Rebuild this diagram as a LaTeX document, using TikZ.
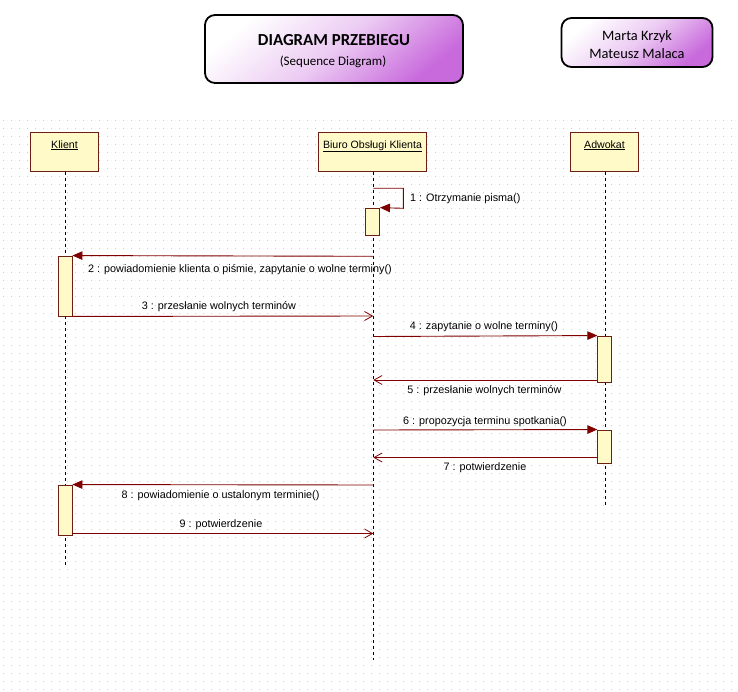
\documentclass[tikz,border=0pt]{standalone}
\usepackage{fontspec}
\setmainfont{Liberation Sans}
\newfontfamily\calib{Carlito}
\usetikzlibrary{arrows.meta}
\definecolor{msgc}{RGB}{128,0,0}
\definecolor{boxbd}{RGB}{110,30,20}
\definecolor{boxfill}{RGB}{255,250,200}
\definecolor{purp}{RGB}{200,105,220}
\definecolor{griddot}{RGB}{205,205,205}
\tikzset{
  titlebox/.style={draw=black, line width=1.8pt, rounded corners=10pt, top color=white, bottom color=purp, middle color=purp!35, shading angle=40, inner sep=0},
  objbox/.style={draw=boxbd, fill=boxfill, line width=0.9pt, minimum width=68, minimum height=39, inner sep=0},
  actbox/.style={draw=boxbd, fill=boxfill, line width=0.9pt, minimum width=14, inner sep=0},
  objlabel/.style={anchor=north, yshift=-5, font=\fontsize{10.6}{12}\selectfont},
  lifeline/.style={draw=black, line width=0.9pt, dash pattern=on 3pt off 3pt},
  callmsg/.style={draw=msgc, line width=0.9pt, -{Triangle[length=10pt,width=8.5pt]}},
  retmsg/.style={draw=msgc, line width=0.9pt, -{Straight Barb[length=8pt,width=9pt,line width=0.8pt]}},
  msglabel/.style={font=\fontsize{10.8}{12}\selectfont, inner sep=0}
}
\begin{document}
\begin{tikzpicture}[x=1pt, y=-1pt]
\useasboundingbox (0,0) rectangle (738,692);
\fill[white] (0,0) rectangle (738,692);
% dotted grid
\foreach \gy in {121,129,...,689}
  \draw[griddot, line width=1pt, dash pattern=on 1pt off 7pt] (3,\gy) -- (738,\gy);

% title boxes
\node[titlebox, minimum width=258, minimum height=68] (title) at (334,49) {};
\node[font=\calib\bfseries\fontsize{16.8}{20}\selectfont] (t1) at (334,40) {DIAGRAM PRZEBIEGU};
\node[font=\calib\fontsize{13}{15}\selectfont] (t2) at (333,61.5) {(Sequence Diagram)};
\node[titlebox, minimum width=151, minimum height=49] (authors) at (637,42.5) {};
\node[font=\calib\fontsize{14.4}{17.5}\selectfont, align=center] (names) at (637,44.5) {Marta Krzyk\\Mateusz Malaca};

% objects
\node[objbox, label={[objlabel]north:\underline{Klient}}] (klient) at (64.5,151.8) {};
\node[objbox, minimum width=108, label={[objlabel]north:\underline{Biuro Obsługi Klienta}}] (biuro) at (372.5,151.8) {};
\node[objbox, label={[objlabel]north:\underline{Adwokat}}] (adwokat) at (604.5,151.8) {};

\coordinate (kEnd) at (65.3,565);
\coordinate (bEnd) at (373.3,660);
\coordinate (aEnd) at (605.3,505);
\draw[lifeline] (klient.south -| kEnd) -- (kEnd);
\draw[lifeline] (biuro.south -| bEnd) -- (bEnd);
\draw[lifeline] (adwokat.south -| aEnd) -- (aEnd);

% activations
\node[actbox, minimum height=27] (bAct) at (372.5,221.6) {};
\node[actbox, minimum height=60] (kAct1) at (65,286) {};
\node[actbox, minimum height=46] (aAct1) at (604.8,359) {};
\node[actbox, minimum height=33] (aAct2) at (604.8,446.5) {};
\node[actbox, minimum height=50] (kAct2) at (65,510) {};

% message 1 (self)
\coordinate (m1s) at (373.3,188.3);
\draw[callmsg] (m1s) -- (403.3,188.3) -- (403.3,208.3) -- (bAct.north east);
\node[msglabel, anchor=west] (l1) at (410,199) {1 : Otrzymanie pisma()};

% message 2
\coordinate (m2s) at (373.3,256.3);
\draw[callmsg] (m2s) -- (kAct1.north east);
\node[msglabel, anchor=west] (l2) at (88,270) {2 : powiadomienie klienta o piśmie, zapytanie o wolne terminy()};

% message 3
\coordinate (m3e) at (373.3,316);
\draw[retmsg] (kAct1.south east) -- (m3e);
\node[msglabel] (l3) at (219,306.5) {3 : przesłanie wolnych terminów};

% message 4
\coordinate (m4s) at (373.3,336.5);
\draw[callmsg] (m4s) -- (aAct1.north west);
\node[msglabel] (l4) at (484,326.5) {4 : zapytanie o wolne terminy()};

% message 5
\coordinate (m5e) at (373.3,380);
\draw[retmsg] (aAct1.west |- m5e) -- (m5e);
\node[msglabel] (l5) at (484.5,390.5) {5 : przesłanie wolnych terminów};

% message 6
\coordinate (m6s) at (373.3,430);
\draw[callmsg] (m6s) -- (aAct2.north west);
\node[msglabel] (l6) at (485,421.5) {6 : propozycja terminu spotkania()};

% message 7
\coordinate (m7e) at (373.3,457.5);
\draw[retmsg] (aAct2.west |- m7e) -- (m7e);
\node[msglabel] (l7) at (485,468) {7 : potwierdzenie};

% message 8
\coordinate (m8s) at (373.3,485);
\draw[callmsg] (m8s) -- (kAct2.north east);
\node[msglabel] (l8) at (220.5,495.5) {8 : powiadomienie o ustalonym terminie()};

% message 9
\coordinate (m9e) at (373.3,533.5);
\draw[retmsg] (kAct2.east |- m9e) -- (m9e);
\node[msglabel] (l9) at (221,524.5) {9 : potwierdzenie};
\end{tikzpicture}
\end{document}
